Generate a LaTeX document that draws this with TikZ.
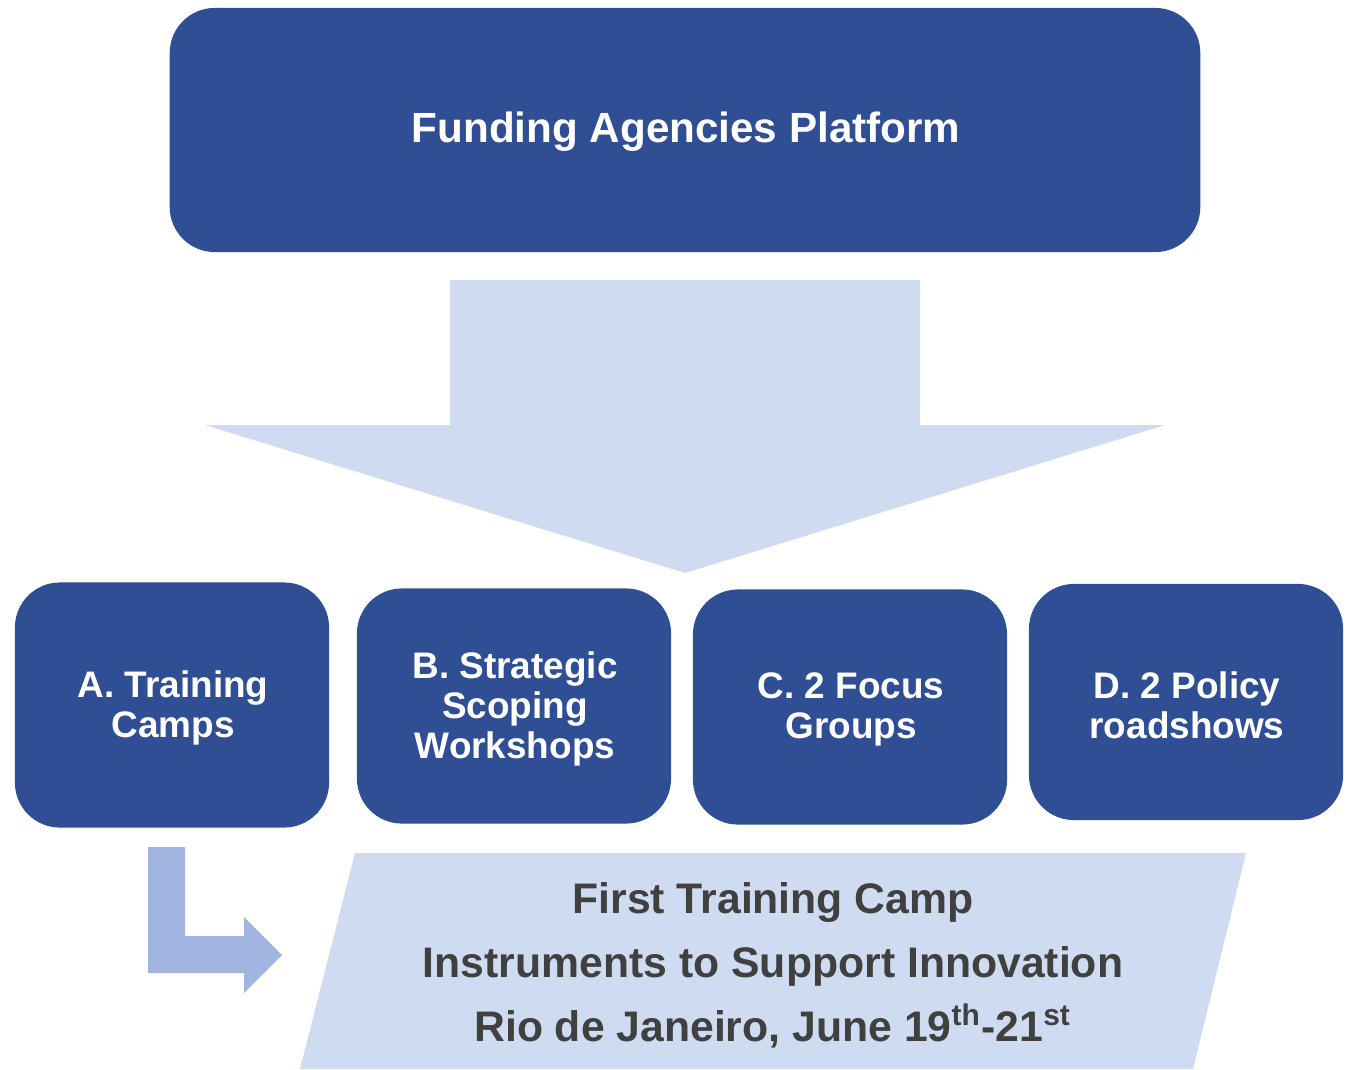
\documentclass[tikz,border=0pt]{standalone}
\usepackage{fontspec}
\setmainfont{Liberation Sans}
\usepackage{xcolor}
\usepackage{tikz}
\usetikzlibrary{positioning}
\definecolor{darkblue}{HTML}{304E94}
\definecolor{paleblue}{HTML}{CFDBF0}
\definecolor{midblue}{HTML}{A2B4E0}
\definecolor{textgray}{HTML}{404040}
\tikzset{
  topbox/.style={fill=darkblue,rounded corners=0.45cm,minimum width=10.3cm,minimum height=2.44cm,text=white,font=\bfseries\fontsize{12}{14}\selectfont},
  phasebox/.style={fill=darkblue,rounded corners=0.45cm,minimum width=3.14cm,minimum height=2.38cm,text=white,align=center,font=\bfseries\fontsize{10.5}{11.4}\selectfont},
  phasetext/.style={text=white,align=center,font=\bfseries\fontsize{10.5}{11.4}\selectfont},
  camptext/.style={text=textgray,align=center,font=\bfseries\fontsize{12.15}{18.2}\selectfont}
}
\begin{document}
\begin{tikzpicture}[x=0.01cm,y=-0.01cm]
        \useasboundingbox (0,0) rectangle (1346,1069);
        \node[topbox] (platform) at (685,130) {};
        \node[text=white,font=\bfseries\fontsize{12}{14}\selectfont] (platformtext) at (686,132) {Funding Agencies Platform};
        \fill[paleblue] (450,280) -- (920,280) -- (920,425) -- (1165,425) -- (685,573) -- (205,425) -- (450,425) -- cycle;
        \node[phasebox,minimum height=2.45cm] (camps) at (172,705) {};
        \node[phasebox,minimum height=2.35cm] (workshops) at (514,706) {};
        \node[phasebox,minimum height=2.35cm] (focus) at (850,707) {};
        \node[phasebox,minimum height=2.36cm] (roadshows) at (1186,702) {};
        \node[phasetext] (campstext) at (173,708) {A. Training\\Camps};
        \node[phasetext] (workshopstext) at (515,709) {B. Strategic\\Scoping\\Workshops};
        \node[phasetext] (focustext) at (851,709) {C. 2 Focus\\Groups};
        \node[phasetext] (roadshowstext) at (1187,705) {D. 2 Policy\\roadshows};
        \fill[midblue] (148,847) -- (185,847) -- (185,936) -- (244,936) -- (244,917) -- (282,955) -- (244,993) -- (244,973) -- (148,973) -- cycle;
        \fill[paleblue] (355,853) -- (1246,853) -- (1193,1069) -- (300,1069) -- cycle;
        \node[camptext] (camp) at (773,965) {First Training Camp\\Instruments to Support Innovation\\Rio de Janeiro, June 19\textsuperscript{th}-21\textsuperscript{st}};
\end{tikzpicture}
\end{document}
